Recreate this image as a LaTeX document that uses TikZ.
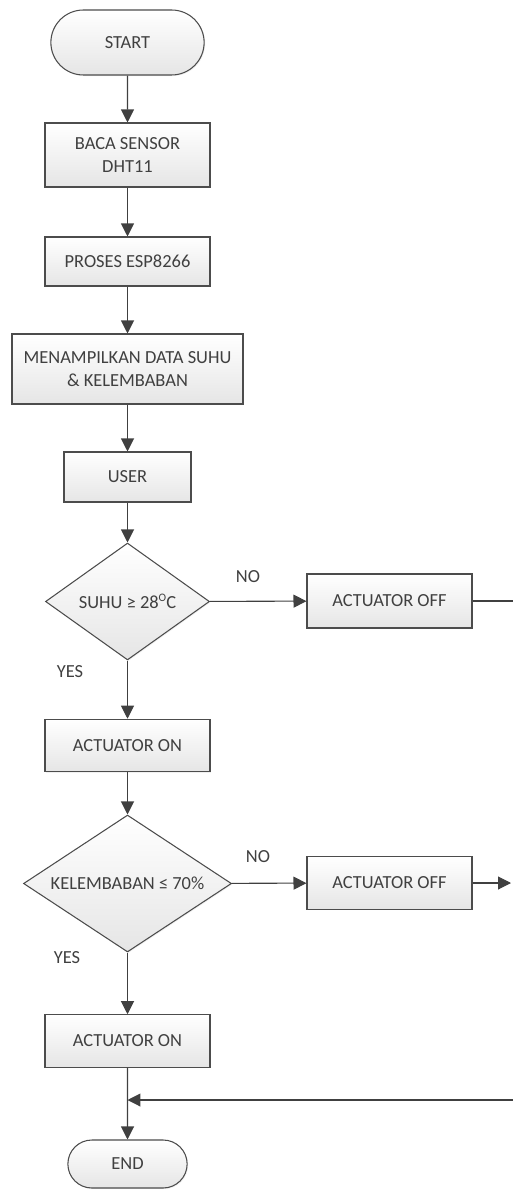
\documentclass[tikz,border=0pt]{standalone}
\usepackage{fontspec}
\setmainfont{Carlito}
\usetikzlibrary{arrows.meta,shapes.geometric,shapes.misc,shadows}

\tikzset{
  box/.style={draw=black!70, top color=white, bottom color=black!10, minimum width=3.3cm,
    minimum height=1.05cm, align=center,
    drop shadow={opacity=0.12, shadow xshift=0.6pt, shadow yshift=-0.6pt}},
  term/.style={box, rounded rectangle},
  decide/.style={box, diamond, inner sep=0pt},
  lbl/.style={inner sep=0pt}
}
\newcommand{\degsup}{\raisebox{0.85ex}{\fontsize{6.5}{7}\selectfont O}}

\begin{document}
\begin{tikzpicture}[x=0.02cm, y=-0.02cm, font=\fontsize{10.5}{13}\selectfont, line width=0.6pt, color=black!75, -{Triangle[length=2.6mm, width=2.6mm]}]
	\useasboundingbox (0,0) rectangle (513,1189);
	\node[term, minimum height=1.3cm] (start) at (127.5,42.5) {START};
	\node[box, minimum height=1.28cm] (baca) at (127.5,155) {BACA SENSOR\\DHT11};
	\node[box, minimum height=0.98cm] (proses) at (127.5,261.5) {PROSES ESP8266};
	\node[box, minimum width=4.62cm, minimum height=1.4cm] (tampil) at (127.5,369) {MENAMPILKAN DATA SUHU\\\& KELEMBABAN};
	\node[box, minimum width=2.54cm, minimum height=1cm] (user) at (127.5,477) {USER};
	\node[decide, aspect=1.4, minimum width=3.28cm, minimum height=2.34cm] (suhu) at (127.5,601.5) {SUHU ≥ 28\degsup C};
	\node[box, minimum height=1.08cm] (offa) at (389.5,601) {ACTUATOR OFF};
	\node[box] (ona) at (127.5,745.5) {ACTUATOR ON};
	\node[decide, aspect=1.52, minimum width=4.16cm, minimum height=2.74cm] (lembab) at (127.5,883.5) {KELEMBABAN ≤ 70\%};
	\node[box] (offb) at (389.5,883) {ACTUATOR OFF};
	\node[box] (onb) at (127.5,1041) {ACTUATOR ON};
	\node[term, minimum width=2.62cm, minimum height=0.96cm] (end) at (127.5,1164) {END};
	\node[lbl] (noa) at (248,577) {NO};
	\node[lbl] (yesa) at (70,672) {YES};
	\node[lbl] (nob) at (258,857) {NO};
	\node[lbl] (yesb) at (67,958) {YES};
	\coordinate (outa) at (513,601);
	\coordinate (outb) at (511,883);
	\coordinate (back) at (513,1100);
	\draw (start) -- (baca);
	\draw (baca) -- (proses);
	\draw (proses) -- (tampil);
	\draw (tampil) -- (user);
	\draw (user) -- (suhu);
	\draw (suhu) -- (offa);
	\draw[-] (offa) -- (outa);
	\draw (suhu) -- (ona);
	\draw (ona) -- (lembab);
	\draw (lembab) -- (offb);
	\draw (offb) -- (outb);
	\draw (lembab) -- (onb);
	\draw (onb) -- (end);
	\draw (back) -- (back -| onb.south);
\end{tikzpicture}
\end{document}
